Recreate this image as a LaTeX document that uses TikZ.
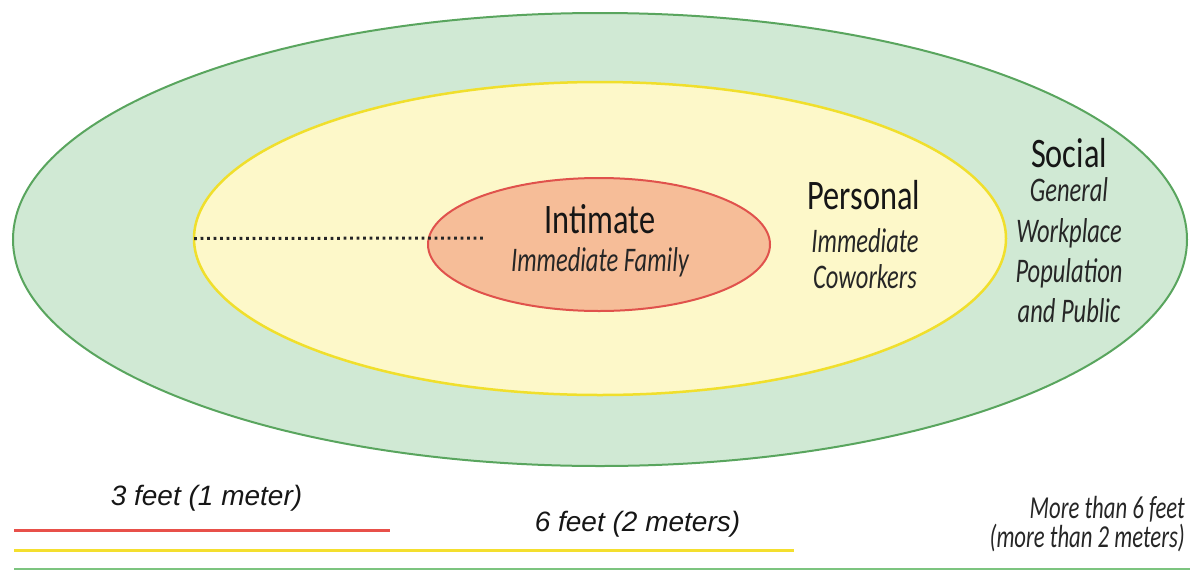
\documentclass[tikz,border=0pt]{standalone}
\usepackage{fontspec}
\setmainfont{Liberation Sans}
\newfontfamily\headfont[FakeStretch=0.77]{Carlito}
\newfontfamily\notefont[FakeStretch=0.71]{Carlito}
\usetikzlibrary{shapes.geometric}

\definecolor{socialfill}{HTML}{D0E9D4}
\definecolor{socialline}{HTML}{59A55E}
\definecolor{personalfill}{HTML}{FDF8C9}
\definecolor{personalline}{HTML}{F0DF2C}
\definecolor{intimatefill}{HTML}{F6BD98}
\definecolor{intimateline}{HTML}{E0524C}
\definecolor{inktext}{HTML}{161616}
\definecolor{notetext}{HTML}{262626}
\definecolor{barred}{HTML}{E8504A}
\definecolor{baryellow}{HTML}{F4DF2E}
\definecolor{bargreen}{HTML}{7CC47F}

\tikzset{
  zone/.style={ellipse, inner sep=0pt, outer sep=0pt},
  heading/.style={anchor=base, text=inktext, inner sep=0pt,
    font=\headfont\fontsize{42}{48}\selectfont},
  note/.style={anchor=base, text=notetext, inner sep=0pt,
    font=\notefont\itshape\fontsize{34.5}{40}\selectfont},
  scalenote/.style={anchor=base east, text=notetext, inner sep=0pt,
    align=right, font=\notefont\itshape\fontsize{32}{27}\selectfont},
  distlabel/.style={anchor=base, text=inktext, inner sep=0pt,
    font=\itshape\fontsize{28}{32}\selectfont},
  dotline/.style={line width=3pt, draw=black!85, dash pattern=on 2.8pt off 3.7pt},
  bar/.style={line width=#1},
}

\begin{document}
\begin{tikzpicture}[x=1pt,y=-1pt]
\useasboundingbox (0,0) rectangle (1192,571);

% the three nested zones
\node[zone, fill=socialfill, draw=socialline, line width=2pt,
      minimum width=1174pt, minimum height=453pt] (social) at (600,239.5) {};
\node[zone, fill=personalfill, draw=personalline, line width=2.5pt,
      minimum width=812pt, minimum height=313pt] (personal) at (600,238.5) {};
\node[zone, fill=intimatefill, draw=intimateline, line width=2pt,
      minimum width=342pt, minimum height=133pt] (intimate) at (599,244.5) {};

% radius marker
\coordinate (dotend) at (485,238);
\draw[dotline] (personal.west) -- (dotend);

% zone labels
\node[heading] (tInt) at (600,233) {Intimate};
\node[note] (tIntSub) at (600,271) {Immediate Family};

\node[heading] (tPer) at (864,209) {Personal};
\node[note] (tPer1) at (865,252) {Immediate};
\node[note] (tPer2) at (865,288) {Coworkers};

\node[heading] (tSoc) at (1069,167) {Social};
\node[note] (tSoc1) at (1069,201) {General};
\node[note] (tSoc2) at (1069,242) {Workplace};
\node[note] (tSoc3) at (1069,282) {Population};
\node[note] (tSoc4) at (1069,322) {and Public};

% distance scale
\draw[bar=3pt, draw=barred] (14,530.5) -- (390,530.5);
\draw[bar=3pt, draw=baryellow] (14,550.5) -- (794,550.5);
\draw[bar=1.6pt, draw=bargreen] (14,569) -- (1190,569);

\node[distlabel] (d1) at (206.5,505) {3 feet (1 meter)};
\node[distlabel] (d2) at (637.5,531) {6 feet (2 meters)};
\node[scalenote] (d3) at (1185,547) {More than 6 feet\\(more than 2 meters)};
\end{tikzpicture}
\end{document}
